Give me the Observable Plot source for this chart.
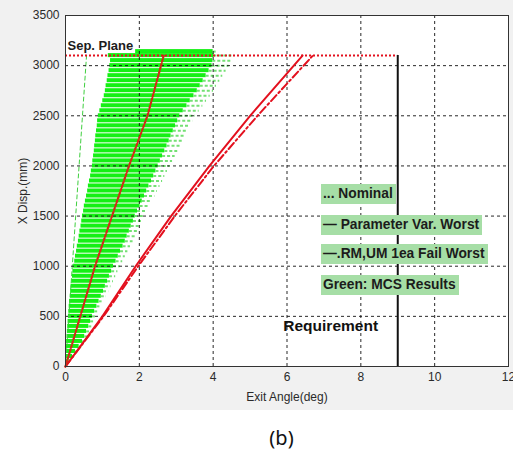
<!DOCTYPE html>
<html>
<head>
<meta charset="utf-8">
<script src="https://cdn.jsdelivr.net/npm/d3@7"></script>
<script src="https://cdn.jsdelivr.net/npm/@observablehq/plot@0.6"></script>
<style>
  html, body { margin: 0; padding: 0; background: #ffffff; }
  #wrap { position: relative; width: 513px; height: 459px; font-family: "Liberation Sans", Arial, sans-serif; }
  #chart svg { display: block; background: #f1f1f1; }
  .lg { position: absolute; background: #a6dea6; color: #1c1c1c; font-weight: bold; font-size: 13.8px; line-height: 20px; height: 20px; padding: 0 3px 0 2px; white-space: nowrap; }
  #cap { position: absolute; left: 0; width: 563px; top: 424px; text-align: center; font-family: "Noto Sans", "DejaVu Sans", sans-serif; font-size: 20px; color: #111; }
</style>
</head>
<body>
<div id="wrap">
  <div id="chart"></div>
</div>
<script>
// ---- data ----
const xTicks = [0, 2, 4, 6, 8, 10, 12];
const yTicks = [0, 500, 1000, 1500, 2000, 2500, 3000, 3500];
const sepPlane = 3100;      // mm
const requirement = 9;      // deg

// Nominal trajectory (dotted red)
const nominalX = [0, 0.40, 0.80, 1.26, 1.72, 2.22, 2.66];
const nominalY = [0, 500, 1000, 1500, 2000, 2500, 3100];
// Parameter Var. Worst (solid red)
const paramX = [0, 1.00, 1.90, 2.86, 3.90, 5.00, 6.42];
const paramY = [0, 500, 1000, 1500, 2000, 2500, 3100];
// RM,UM 1ea Fail Worst (dash-dot red)
const rmumX = [0, 1.03, 1.97, 2.96, 4.02, 5.20, 6.70];
const rmumY = [0, 500, 1000, 1500, 2000, 2500, 3100];

// MCS results (green): band levels and their left / right / outer edges
const mcsLevel = [50,100,150,200,250,300,350,400,450,500,550,600,650,700,750,800,850,900,950,1000,
  1050,1100,1150,1200,1250,1300,1350,1400,1450,1500,1550,1600,1650,1700,1750,1800,1850,1900,1950,2000,
  2050,2100,2150,2200,2250,2300,2350,2400,2450,2500,2550,2600,2650,2700,2750,2800,2850,2900,2950,3000,3050,3100,3140];
const mcsLeft = [0.01,0.01,0.02,0.02,0.03,0.04,0.05,0.06,0.07,0.08,0.09,0.10,0.11,0.13,0.14,0.15,0.17,0.19,0.20,0.22,
  0.25,0.27,0.30,0.32,0.35,0.37,0.39,0.42,0.44,0.46,0.49,0.51,0.54,0.57,0.60,0.62,0.65,0.68,0.70,0.73,
  0.74,0.76,0.78,0.79,0.81,0.82,0.84,0.86,0.87,0.89,0.93,0.97,1.01,1.05,1.08,1.10,1.13,1.15,1.18,1.20,1.22,1.16,1.90];
const mcsRight = [0.10,0.19,0.27,0.37,0.46,0.52,0.57,0.63,0.68,0.73,0.79,0.85,0.91,0.97,1.03,1.08,1.14,1.19,1.25,1.30,
  1.37,1.43,1.49,1.56,1.62,1.67,1.73,1.78,1.84,1.89,1.95,2.02,2.08,2.14,2.20,2.26,2.33,2.39,2.45,2.51,
  2.57,2.63,2.69,2.75,2.81,2.86,2.92,2.98,3.04,3.10,3.19,3.29,3.38,3.48,3.57,3.65,3.73,3.81,3.89,3.97,3.99,4.02,4.00];
const mcsOuter = [0.13,0.24,0.34,0.45,0.55,0.61,0.67,0.73,0.79,0.84,0.91,0.97,1.04,1.11,1.17,1.23,1.30,1.36,1.42,1.48,
  1.55,1.62,1.69,1.76,1.83,1.89,1.96,2.02,2.08,2.14,2.21,2.28,2.35,2.42,2.49,2.56,2.63,2.69,2.76,2.83,
  2.90,2.97,3.04,3.11,3.18,3.24,3.31,3.38,3.45,3.52,3.62,3.72,3.82,3.92,4.01,4.09,4.18,4.26,4.35,4.43,4.50,4.55,4.10];
// sparse single MCS runs (end angle at the sep. plane)
const mcsSparseEnd = [0.57];

const legendLabels = ["... Nominal", "\u2014 Parameter Var. Worst", "\u2014.RM,UM 1ea Fail Worst", "Green: MCS Results"];

// ---- tables ----
const toLine = (xs, ys) => xs.map((x, i) => ({x, y: ys[i]}));
const bands = mcsLevel.map((y, i) => ({y, l: mcsLeft[i], r: mcsRight[i], o: mcsOuter[i]}));
const sparse = mcsSparseEnd.flatMap((a, k) => [{k, x: 0, y: 0}, {k, x: a, y: sepPlane}]);

const red = "#e3101e";

const chart = Plot.plot({
  width: 513,
  height: 410,
  marginLeft: 65,
  marginRight: 5,
  marginTop: 15,
  marginBottom: 44,
  style: {fontFamily: "'Liberation Sans', Arial, sans-serif", fontSize: "12px", color: "#2a2a2a", background: "#f1f1f1"},
  x: {domain: [0, 12]},
  y: {domain: [0, 3500]},
  marks: [
    Plot.frame({fill: "white", stroke: null}),
    Plot.rect(bands, {x1: "l", x2: "r", y1: d => d.y - 20, y2: d => d.y + 20, fill: "#14f014"}),
    Plot.ruleY(bands, {y: "y", x1: "r", x2: "o", stroke: "#74e074", strokeWidth: 2, strokeDasharray: "3,2"}),
    Plot.line(sparse, {x: "x", y: "y", z: "k", stroke: "#3fcf3f", strokeWidth: 1, strokeDasharray: "4,3"}),
    Plot.gridX({ticks: xTicks, stroke: "#111", strokeOpacity: 0.9, strokeDasharray: "3,3"}),
    Plot.gridY({ticks: yTicks, stroke: "#111", strokeOpacity: 0.9, strokeDasharray: "3,3"}),
    Plot.ruleY([sepPlane], {x1: 0, x2: requirement, stroke: red, strokeWidth: 2, strokeDasharray: "2,2"}),
    Plot.ruleX([requirement], {y1: 0, y2: sepPlane, stroke: "#111", strokeWidth: 2}),
    Plot.line(toLine(rmumX, rmumY), {x: "x", y: "y", stroke: red, strokeWidth: 2, strokeDasharray: "8,3,2,3"}),
    Plot.line(toLine(paramX, paramY), {x: "x", y: "y", stroke: red, strokeWidth: 2}),
    Plot.line(toLine(nominalX, nominalY), {x: "x", y: "y", stroke: "#d22a18", strokeWidth: 2.2, strokeDasharray: "2,2"}),
    Plot.frame({stroke: "#333", strokeWidth: 1}),
    Plot.axisX({ticks: xTicks, tickSize: 0, tickPadding: 6, label: "Exit Angle(deg)", labelAnchor: "center", labelArrow: "none", labelOffset: 34, fontSize: 12}),
    Plot.axisY({ticks: yTicks, tickSize: 0, tickPadding: 6, tickFormat: d => String(d), label: "X Disp.(mm)", labelAnchor: "center", labelArrow: "none", labelOffset: 47, fontSize: 12}),
    Plot.text(["Sep. Plane"], {x: 0, y: 3195, text: d => d, textAnchor: "start", dx: 2, fontWeight: "bold", fontSize: 13, fill: "#1c1c1c"}),
    Plot.text(["Requirement"], {x: 5.9, y: 400, text: d => d, textAnchor: "start", fontWeight: "bold", fontSize: 15.5, fill: "#111"})
  ]
});
document.getElementById("chart").appendChild(chart);

// legend boxes (annotation text, stacked as in the reference)
const wrap = document.getElementById("wrap");
const tops = [184, 215, 244, 275];
legendLabels.forEach((t, i) => {
  const d = document.createElement("div");
  d.className = "lg";
  d.textContent = t;
  d.style.left = "321px";
  d.style.top = tops[i] + "px";
  wrap.appendChild(d);
});
const cap = document.createElement("div");
cap.id = "cap";
cap.textContent = "(b)";
wrap.appendChild(cap);
</script>
</body>
</html>
